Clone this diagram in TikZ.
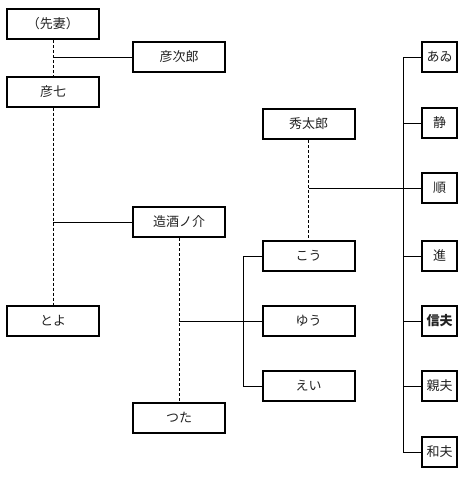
\documentclass[tikz,border=0pt]{standalone}
\usepackage{fontspec}
\setmainfont{Noto Sans CJK JP}
\usetikzlibrary{positioning}
\definecolor{nameInk}{HTML}{222222}

\begin{document}
\begin{tikzpicture}[
    x=1pt, y=-1pt,
    box/.style={rectangle, draw=black, line width=2pt, fill=white,
                minimum height=30pt, inner sep=1pt,
                font=\fontsize{13}{15}\selectfont, text=nameInk, align=center},
    wide/.style={box, minimum width=92pt},
    slim/.style={box, minimum width=35pt},
    kin/.style={line width=0.8pt},
    wed/.style={line width=0.8pt, dash pattern=on 3pt off 2pt},
  ]
    \useasboundingbox (0,0) rectangle (466,479);

    % left side
    \node[wide] (senzai) at (53,24)  {（先妻）};
    \node[wide] (hikojiro) at (179,57) {彦次郎};
    \node[wide] (hikoshichi) at (53,91.5) {彦七};
    \node[wide] (miki) at (179,222) {造酒ノ介};
    \node[wide] (toyo) at (53,321) {とよ};
    \node[wide] (tsuta) at (179,418) {つた};

    % middle
    \node[wide] (hidetaro) at (308.5,124) {秀太郎};
    \node[wide] (kou) at (308.5,256) {こう};
    \node[wide] (yuu) at (308.5,321) {ゆう};
    \node[wide] (ei) at (308.5,386) {えい};

    % right column
    \node[slim] (aawi) at (439.5,57)  {あゐ};
    \node[slim] (shizuka) at (439.5,123) {静};
    \node[slim] (jun) at (439.5,188) {順};
    \node[slim] (susumu) at (439.5,256) {進};
    \node[slim] (nobuo) at (439.5,321) {\bfseries 信夫};
    \node[slim] (chikao) at (439.5,386) {親夫};
    \node[slim] (kazuo) at (439.5,452) {和夫};

    % marriages
    \draw[wed] (senzai.south) -- (hikoshichi.north);
    \draw[wed] (hikoshichi.south) -- (toyo.north);
    \draw[wed] (hidetaro.south) -- (kou.north);
    \draw[wed] (miki.south) -- (tsuta.north);

    % children
    \draw[kin] (senzai.south |- hikojiro.west) -- (hikojiro.west);
    \draw[kin] (hikoshichi.south |- miki.west) -- (miki.west);
    \draw[kin] (miki.south |- yuu.west) -- (yuu.west);
    \draw[kin] (hidetaro.south |- jun.west) -- (jun.west);

    \coordinate (lbar) at (243,256);
    \draw[kin] (kou.west) -- (lbar) |- (ei.west);

    \coordinate (rbar) at (403,57);
    \draw[kin] (aawi.west) -- (rbar) |- (kazuo.west);
    \foreach \kid in {shizuka, susumu, nobuo, chikao}
      \draw[kin] (rbar |- \kid.west) -- (\kid.west);
  \end{tikzpicture}
\end{document}
